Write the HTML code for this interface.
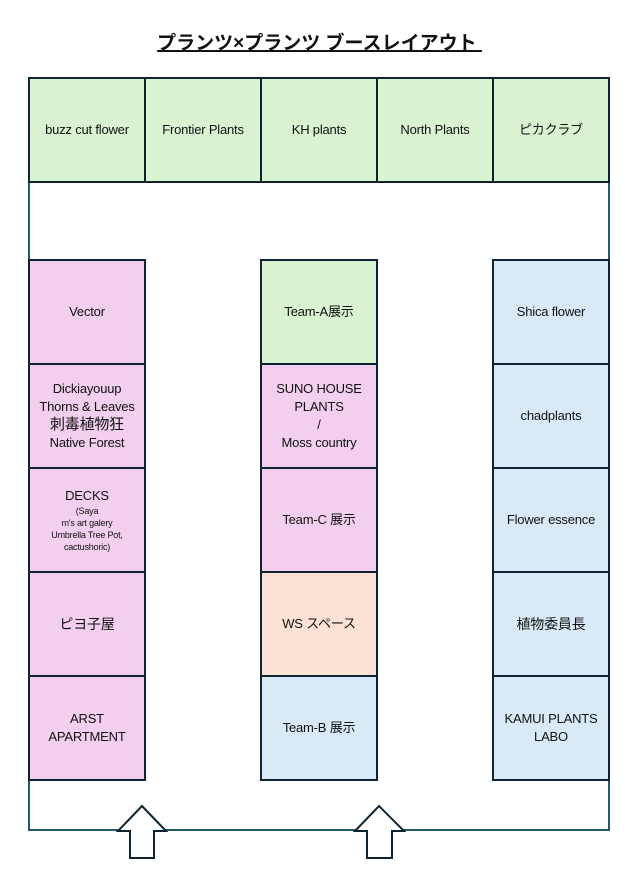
<!DOCTYPE html>
<html><head><meta charset="utf-8"><style>
body{margin:0;width:639px;height:885px;background:#fff;position:relative;overflow:hidden;font-family:"Liberation Sans","Noto Sans CJK JP",sans-serif;color:#111;}
.t{position:absolute;left:0;width:639px;top:28px;text-align:center;font-size:19px;font-weight:bold;}
.t span{text-decoration:underline;text-decoration-thickness:2px;}
.c{position:absolute;box-sizing:border-box;border:2px solid #0e2433;display:flex;align-items:center;justify-content:center;text-align:center;font-size:13px;line-height:18px;letter-spacing:-0.2px;}
.g{background:#d9f2d0}.p{background:#f2cfee}.b{background:#dae9f7}.o{background:#fbe2d5}
.s{font-size:9px;line-height:12px}
</style></head><body>
<div class="t"><span>プランツ×プランツ ブースレイアウト&nbsp;</span></div>
<svg width="639" height="885" style="position:absolute;left:0;top:0">
<rect x="29" y="78" width="580" height="752" fill="none" stroke="#215a70" stroke-width="2"/>
</svg>
<div class="c g" style="left:28px;top:77px;width:118px;height:106px"><div>buzz cut flower</div></div>
<div class="c g" style="left:144px;top:77px;width:118px;height:106px"><div>Frontier Plants</div></div>
<div class="c g" style="left:260px;top:77px;width:118px;height:106px"><div>KH plants</div></div>
<div class="c g" style="left:376px;top:77px;width:118px;height:106px"><div>North Plants</div></div>
<div class="c g" style="left:492px;top:77px;width:118px;height:106px"><div>ピカクラブ</div></div>

<div class="c p" style="left:28px;top:259px;width:118px;height:106px"><div>Vector</div></div>
<div class="c p" style="left:28px;top:363px;width:118px;height:106px"><div>Dickiayouup<br>Thorns &amp; Leaves<br><span style="font-size:15px">刺毒植物狂</span><br>Native Forest</div></div>
<div class="c p" style="left:28px;top:467px;width:118px;height:106px"><div>DECKS<div class="s">(Saya<br>m's art galery<br>Umbrella Tree Pot,<br>cactushoric)</div></div></div>
<div class="c p" style="left:28px;top:571px;width:118px;height:106px"><div style="font-size:14px">ピヨ子屋</div></div>
<div class="c p" style="left:28px;top:675px;width:118px;height:106px"><div>ARST<br>APARTMENT</div></div>

<div class="c g" style="left:260px;top:259px;width:118px;height:106px"><div>Team-A展示</div></div>
<div class="c p" style="left:260px;top:363px;width:118px;height:106px"><div>SUNO HOUSE<br>PLANTS<br>/<br>Moss country</div></div>
<div class="c p" style="left:260px;top:467px;width:118px;height:106px"><div>Team-C 展示</div></div>
<div class="c o" style="left:260px;top:571px;width:118px;height:106px"><div>WS スペース</div></div>
<div class="c b" style="left:260px;top:675px;width:118px;height:106px"><div>Team-B 展示</div></div>

<div class="c b" style="left:492px;top:259px;width:118px;height:106px"><div>Shica flower</div></div>
<div class="c b" style="left:492px;top:363px;width:118px;height:106px"><div>chadplants</div></div>
<div class="c b" style="left:492px;top:467px;width:118px;height:106px"><div>Flower essence</div></div>
<div class="c b" style="left:492px;top:571px;width:118px;height:106px"><div style="font-size:14px">植物委員長</div></div>
<div class="c b" style="left:492px;top:675px;width:118px;height:106px"><div>KAMUI PLANTS<br>LABO</div></div>

<svg width="639" height="885" style="position:absolute;left:0;top:0">
<polygon points="142,806 166,831 154,831 154,858 130,858 130,831 118,831" fill="#fff" stroke="#0e2433" stroke-width="2"/>
<polygon points="379,806 404,831 392,831 392,858 367,858 367,831 355,831" fill="#fff" stroke="#0e2433" stroke-width="2"/>
</svg>
</body></html>
